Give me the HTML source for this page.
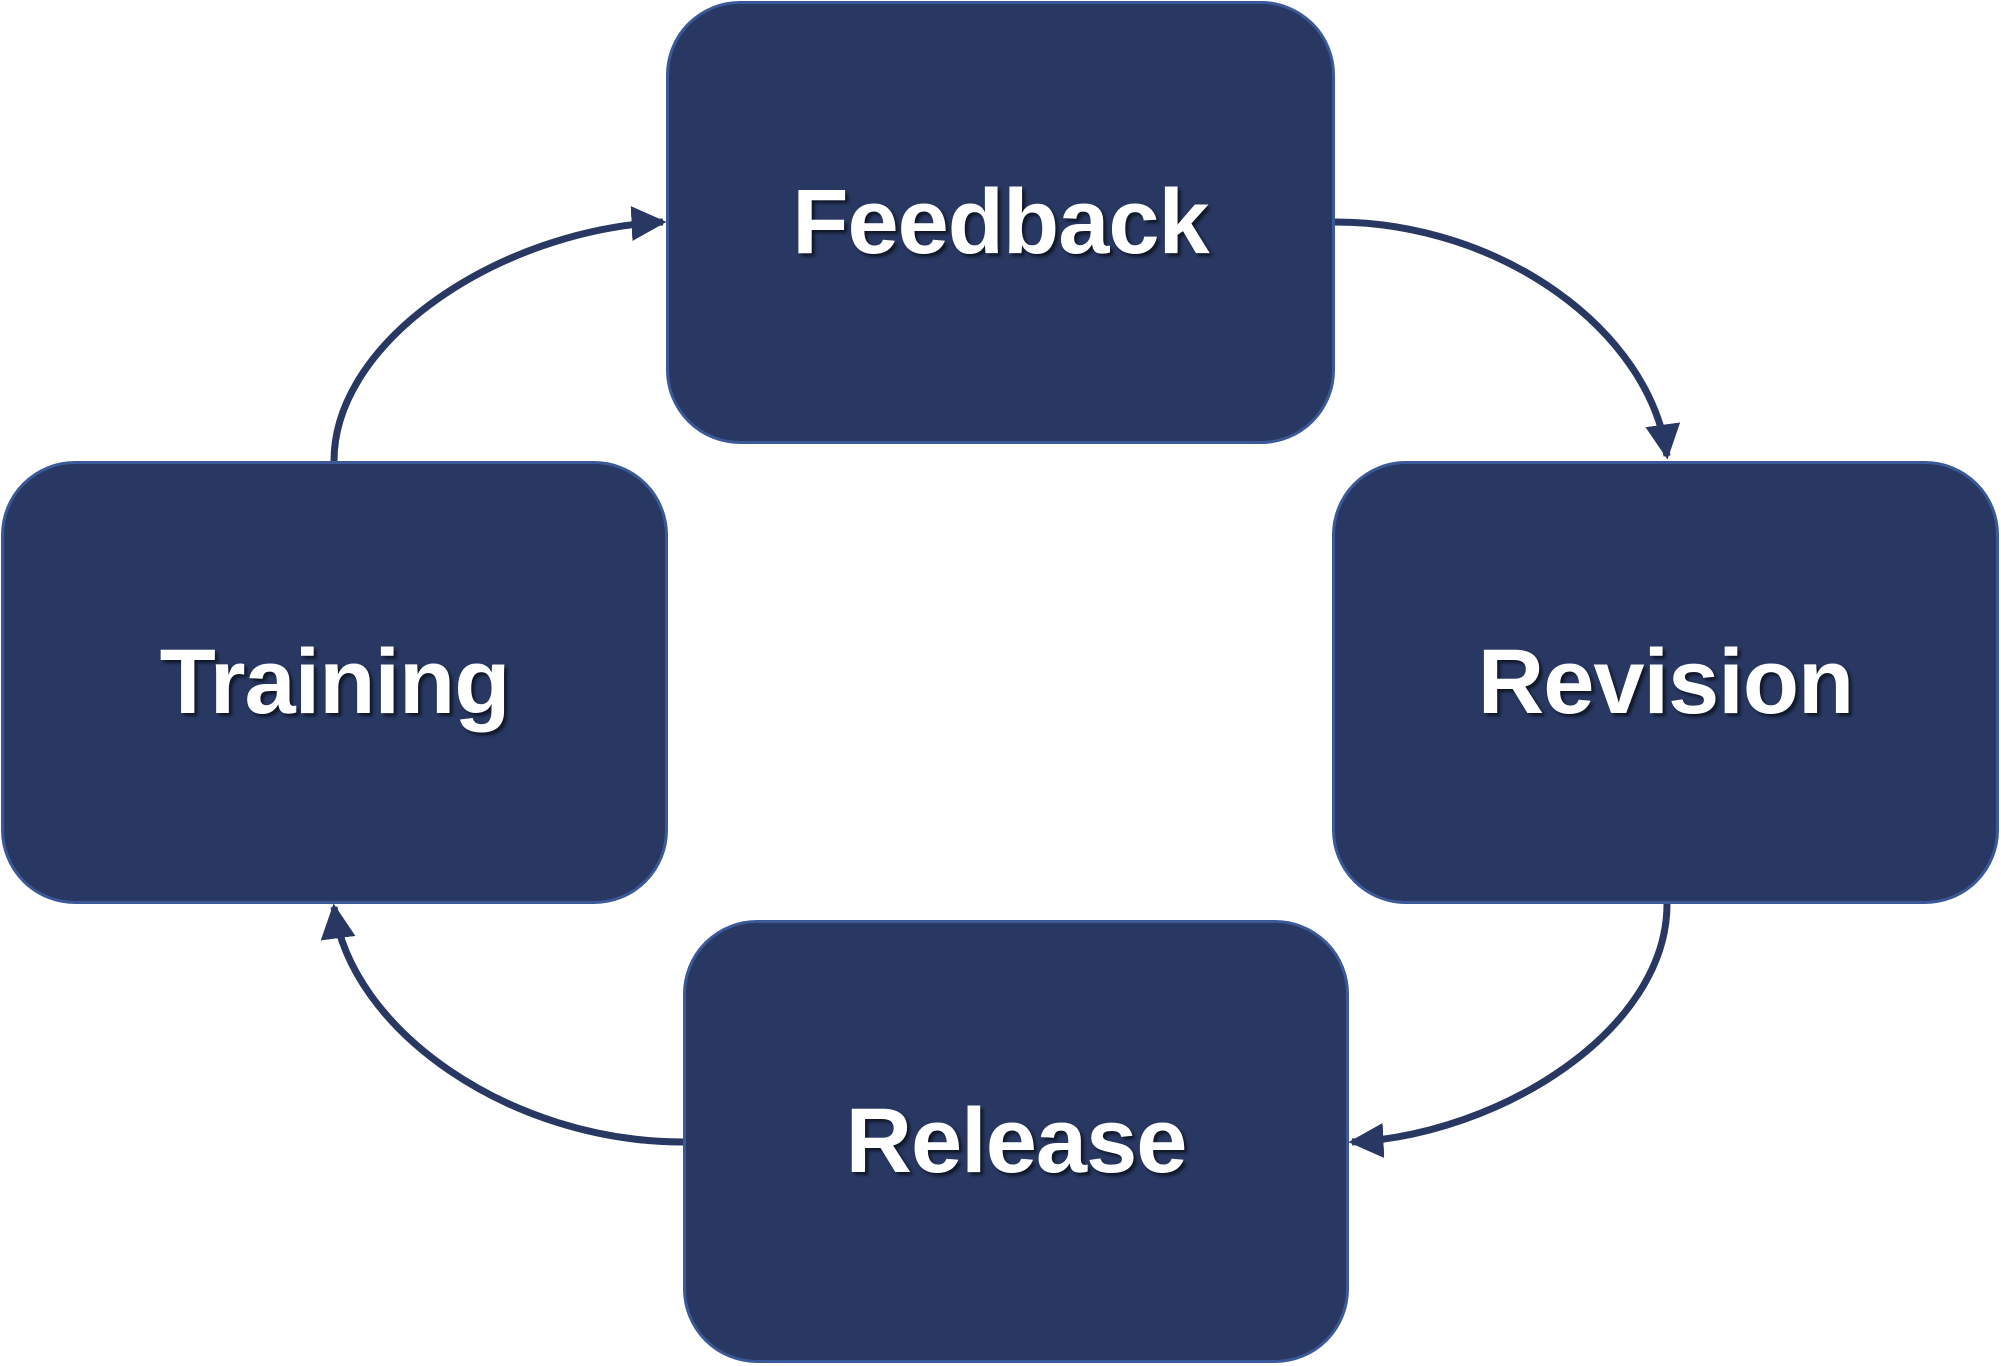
<!DOCTYPE html>
<html><head><style>
body{margin:0;width:2001px;height:1366px;background:#fff;position:relative;overflow:hidden}
.b{position:absolute;box-sizing:border-box;background:#283862;border:3px solid #3b5998;border-radius:74px;display:flex;align-items:center;justify-content:center;color:#fff;font-family:"Liberation Sans",sans-serif;font-weight:bold;font-size:92px;letter-spacing:-1px;text-shadow:3px 3px 3px rgba(0,0,0,0.6)}
svg{position:absolute;left:0;top:0}
</style></head><body>
<div class="b" style="left:666px;top:1px;width:669px;height:443px">Feedback</div>
<div class="b" style="left:1px;top:461px;width:667px;height:443px">Training</div>
<div class="b" style="left:1332px;top:461px;width:667px;height:443px">Revision</div>
<div class="b" style="left:683px;top:920px;width:666px;height:443px">Release</div>
<svg width="2001" height="1366">
<defs><marker id="a" markerWidth="5" markerHeight="5" refX="4.5" refY="2.5" orient="auto" markerUnits="strokeWidth"><path d="M0,0 L5,2.5 L0,5 Z" fill="#283862"/></marker></defs>
<g fill="none" stroke="#283862" stroke-width="7" marker-end="url(#a)">
<path d="M1335,222 C1500,222 1650,330 1667,456"/>
<path d="M334,461 C334,340 500,230 663,222"/>
<path d="M1667,904 C1667,1030 1500,1135 1352,1142"/>
<path d="M683,1142 C510,1142 350,1030 334,907"/>
</g>
</svg>
</body></html>
